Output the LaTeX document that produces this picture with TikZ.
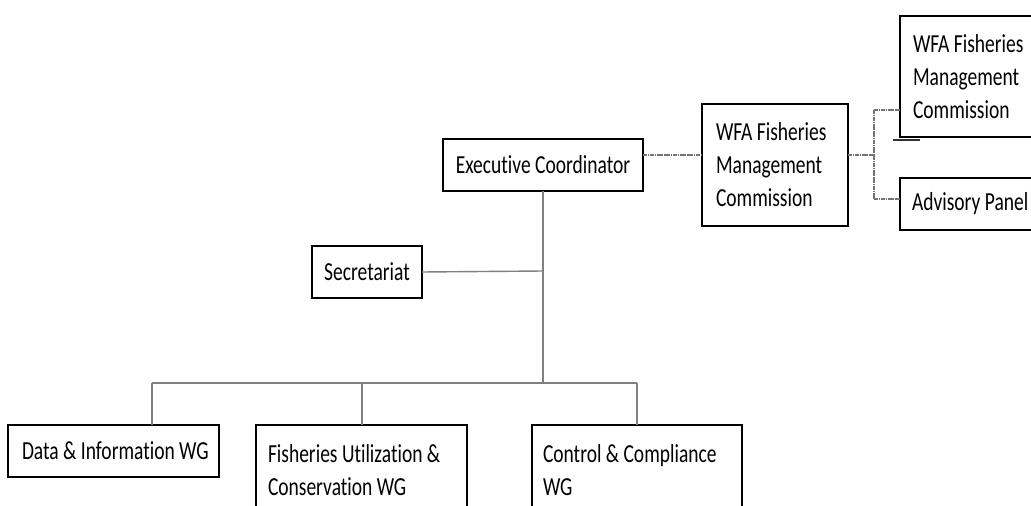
\documentclass[tikz,border=0pt]{standalone}
\usepackage{fontspec}
\setmainfont{Carlito}[FakeStretch=0.75, Ligatures=NoCommon]
\begin{document}
\begin{tikzpicture}[x=1pt,y=-1pt,
  box/.style={draw=black, line width=1.6pt, rectangle, anchor=north west, outer sep=0pt,
    inner ysep=0pt, font=\fontsize{26}{33}\selectfont},
  conn/.style={draw=gray, line width=1.4pt},
  dotconn/.style={draw=black!55, line width=1.3pt, dash pattern=on 1.8pt off 0.5pt},
  darkseg/.style={draw=black!80, line width=1.6pt}]
\clip (0,0) rectangle (1031,506);
\fill[white] (0,0) rectangle (1031,506);

\node[box, minimum width=200pt, minimum height=52pt, align=center] (exec) at (443,139) {Executive Coordinator};
\node[box, minimum width=110pt, minimum height=52pt, align=center] (sec) at (312,246) {Secretariat};
\node[box, minimum width=146pt, minimum height=122pt, inner xsep=14pt, text width=118pt, align=flush left] (wfa1) at (702,104) {\mbox{WFA Fisheries}\\\mbox{Management}\\\mbox{Commission}};
\node[box, minimum width=146pt, minimum height=121pt, inner xsep=13pt, text width=120pt, align=flush left] (wfa2) at (900,16) {\mbox{WFA Fisheries}\\\mbox{Management}\\\mbox{Commission}};
\node[box, minimum width=146pt, minimum height=52pt, inner xsep=12pt, text width=122pt, align=flush left] (adv) at (900,178) {\mbox{Advisory Panel}};
\node[box, minimum width=211pt, minimum height=52pt, inner xsep=14pt, text width=183pt, align=flush left] (data) at (8,425) {\mbox{Data \& Information WG}};
\node[box, minimum width=211pt, minimum height=90pt, inner xsep=12pt, text width=187pt, align=flush left] (fuc) at (256,425) {\mbox{Fisheries Utilization \&}\\\mbox{Conservation WG}};
\node[box, minimum width=210pt, minimum height=90pt, inner xsep=11pt, text width=188pt, align=flush left] (cc) at (532,425) {\mbox{Control \& Compliance}\\\mbox{WG}};

% hierarchy
\coordinate (j1) at (543,271);
\coordinate (b1) at (152,383);
\coordinate (b2) at (362,383);
\coordinate (b3) at (637,383);
\draw[conn] (exec.south) -- (exec.south |- b1);
\draw[conn] (sec.east) -- (j1);
\draw[conn] (b1) -- (b3);
\draw[conn] (b1) -- (b1 |- data.north);
\draw[conn] (b2) -- (b2 |- fuc.north);
\draw[conn] (b3) -- (b3 |- cc.north);

% right side
\coordinate (r1) at (874,155);
\coordinate (r2) at (874,110);
\coordinate (r3) at (874,199);
\draw[dotconn] ([yshift=10pt]exec.east) -- ([yshift=10pt]wfa1.west);
\draw[dotconn] ([yshift=10pt]wfa1.east) -- (r1);
\draw[dotconn] (r2) -- (r3);
\draw[dotconn] (r2) -- (r2 -| wfa2.west);
\draw[dotconn] (r3) -- (r3 -| adv.west);

\coordinate (s1) at (893,140);
\coordinate (s2) at (920,140);
\draw[darkseg] (s1) -- (s2);
\end{tikzpicture}
\end{document}
